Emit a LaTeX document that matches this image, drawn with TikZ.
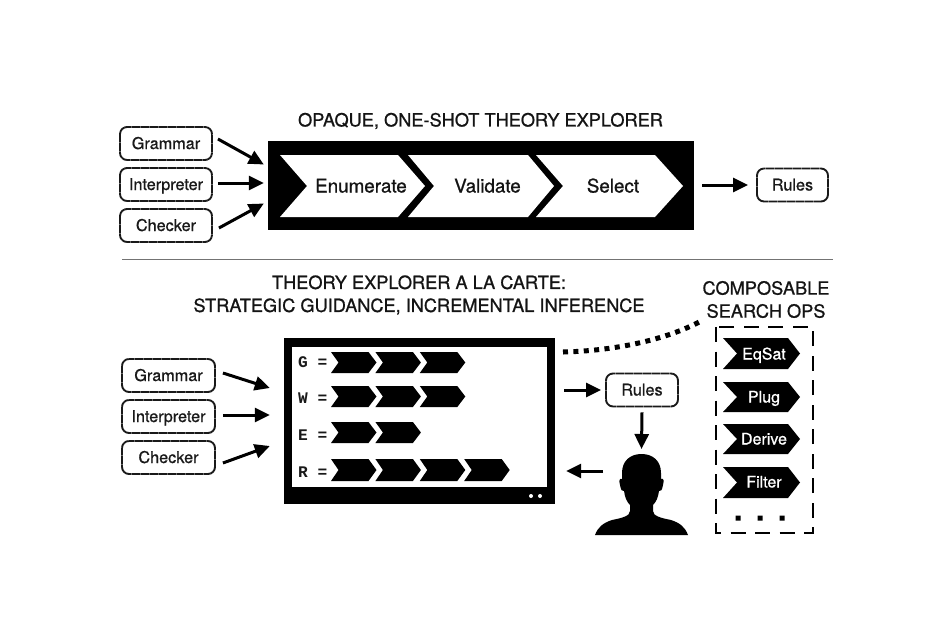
\documentclass[tikz,border=0pt]{standalone}
\usepackage{fontspec}
\setmainfont[FakeBold=0.8]{TeX Gyre Heros}
\setmonofont{Liberation Mono}
\usetikzlibrary{arrows.meta}
\tikzset{
  inbox/.style={draw=black!90,line width=1.9pt,dash pattern=on 1.5pt off 0.3pt,rounded corners=7pt,fill=white,minimum height=33pt,inner sep=0pt,text height=11pt,text depth=0pt,font=\fontsize{16.2}{18}\selectfont,text=black!90},
  arr/.style={line width=3pt,-{Triangle[length=15pt,width=14pt]},black},
  ttl/.style={font=\fontsize{18.2}{21}\selectfont,text=black!92,inner sep=0pt,align=center},
  stage/.style={font=\fontsize{18.8}{20}\selectfont,inner sep=0pt,text height=13pt,text depth=0pt,text=black!92},
  oplabel/.style={font=\fontsize{16}{18}\selectfont,inner sep=0pt,text height=11pt,text depth=0pt,text=white},
  rowlabel/.style={font=\ttfamily\bfseries\fontsize{16.2}{18}\selectfont,inner sep=0pt,anchor=west,text height=10pt,text depth=0pt,text=black!90},
  solidblock/.style={fill=black,draw=none,inner sep=0pt}
}
\newcommand{\chev}[7]{\fill[#1] (#2,#6) -- (#4,#6) -- (#5,{(#6+#7)/2}) -- (#4,#7) -- (#2,#7) -- (#3,{(#6+#7)/2}) -- cycle;}
\newcommand{\rowchevs}[3]{%
  \foreach \k in {1,...,#1}{
    \pgfmathsetmacro{\xa}{331+44.4*(\k-1)}
    \pgfmathsetmacro{\xb}{\xa+7.5}
    \pgfmathsetmacro{\xc}{\xa+37.5}
    \pgfmathsetmacro{\xd}{\xa+45.5}
    \chev{black}{\xa}{\xb}{\xc}{\xd}{#2}{#3}
  }}
\begin{document}
\begin{tikzpicture}[x=1pt,y=-1pt]
\useasboundingbox[fill=white] (0,0) rectangle (943,630);

% --- top ---
\node[ttl] (toptitle) at (480.5,121) {OPAQUE, ONE-SHOT THEORY EXPLORER};
\node[solidblock,minimum width=426pt,minimum height=89pt] (explorer) at (481,185.5) {};
\chev{white}{280}{307}{398}{425}{155}{217}
\chev{white}{408}{434}{528}{554}{155}{217}
\chev{white}{536}{563}{655}{683}{155}{217}
\node[stage] (enum) at (361,186) {Enumerate};
\node[stage] (valid) at (487.5,186) {Validate};
\node[stage] (select) at (613,186) {Select};

\node[inbox,minimum width=92pt] (g1) at (166,143.5) {Grammar};
\node[inbox,minimum width=92pt] (i1) at (166,184.5) {Interpreter};
\node[inbox,minimum width=92pt] (c1) at (166,225.5) {Checker};
\node[inbox,minimum width=71pt] (r1) at (792.5,185) {Rules};
\draw[arr] ([shift={(5,-4.5)}]g1.east) -- ([shift={(-4,-21)}]explorer.west);
\draw[arr] ([shift={(5,-1.5)}]i1.east) -- ([shift={(-4,-2.5)}]explorer.west);
\draw[arr] ([shift={(6,2.5)}]c1.east) -- ([shift={(-4,18)}]explorer.west);
\draw[arr] ([shift={(8,-0.5)}]explorer.east) -- ([shift={(-8,0)}]r1.west);

\draw[black!55,line width=0.7pt] (122,259.5) -- (833,259.5);

% --- bottom ---
\node[ttl] (bottomtitle) at (419,295) {THEORY EXPLORER A LA CARTE:\\[2pt]STRATEGIC GUIDANCE, INCREMENTAL INFERENCE};
\node[ttl] (opstitle) at (766,299.5) {COMPOSABLE\\[2pt]SEARCH OPS};

\node[solidblock,minimum width=271pt,minimum height=166pt] (monitor) at (419.5,421) {};
\fill[white] (292,347) rectangle (547,487);
\fill[white] (531,496) circle (2pt) (540,496) circle (2pt);
\node[rowlabel] (lg) at (298,362.5) {G =};
\node[rowlabel] (lw) at (298,398.5) {W =};
\node[rowlabel] (le) at (298,435.5) {E =};
\node[rowlabel] (lr) at (298,472.5) {R =};
\rowchevs{3}{352}{373}
\rowchevs{3}{386}{407}
\rowchevs{2}{422}{443}
\rowchevs{4}{459}{481}

\node[inbox,minimum width=93pt] (g2) at (168.5,375.5) {Grammar};
\node[inbox,minimum width=93pt] (i2) at (168.5,416.5) {Interpreter};
\node[inbox,minimum width=93pt] (c2) at (168.5,457.5) {Checker};
\node[inbox,minimum width=72pt] (r2) at (642,390) {Rules};
\draw[arr] ([shift={(7,-2.5)}]g2.east) -- ([shift={(-14,-33)}]monitor.west);
\draw[arr] ([shift={(7,-1.5)}]i2.east) -- ([shift={(-14,-6)}]monitor.west);
\draw[arr] ([shift={(7,5.5)}]c2.east) -- ([shift={(-14,25)}]monitor.west);
\draw[arr] ([shift={(9,-31)}]monitor.east) -- ([shift={(-4,0)}]r2.west);

% person
\path[fill=black] (641.5,454) .. controls (630,454) and (622,461) .. (622,473)
  .. controls (622,475) and (622,477) .. (622,479)
  .. controls (619,478) and (619,481) .. (620,485)
  .. controls (621,490) and (622,492) .. (624,491)
  .. controls (625,498) and (627,502) .. (630,505) -- (630,511)
  .. controls (630,516) and (622,518) .. (612,520)
  .. controls (603,523) and (598,527) .. (595,535) -- (688,535)
  .. controls (685,527) and (680,523) .. (671,520)
  .. controls (661,518) and (653,516) .. (653,511) -- (653,505)
  .. controls (656,502) and (658,498) .. (659,491)
  .. controls (661,492) and (662,490) .. (663,485)
  .. controls (664,481) and (664,478) .. (661,479)
  .. controls (661,477) and (661,475) .. (661,473)
  .. controls (661,461) and (653,454) .. (641.5,454) -- cycle;
\coordinate (head) at (641.5,454);
\coordinate (headleft) at (603,471);
\draw[arr] ([yshift=-5pt]r2.south) -- ([yshift=5pt]head);
\draw[arr] (headleft) -- ([shift={(11,50)}]monitor.east);

% dotted connector
\coordinate (dotstart) at (563,352);
\coordinate (dotend) at (703,320);
\draw[line width=5pt,dash pattern=on 5pt off 5.4pt] (dotstart) .. controls (610,351) and (665,341) .. (dotend);

% search ops
\draw[line width=2.5pt,dash pattern=on 15pt off 9.5pt] (716,327) rectangle (813,533);
\chev{black}{723}{737}{788}{800}{338}{369}
\chev{black}{723}{737}{788}{800}{382}{412}
\chev{black}{723}{737}{788}{800}{424}{454}
\chev{black}{723}{737}{788}{800}{467}{498}
\node[oplabel] (eqsat) at (764,354) {EqSat};
\node[oplabel] (plug) at (764,397) {Plug};
\node[oplabel] (derive) at (764,439) {Derive};
\node[oplabel] (filter) at (764,482) {Filter};
\fill (735.5,515.5) rectangle +(5,5) (757.5,515.5) rectangle +(5,5) (779.5,515.5) rectangle +(5,5);
\end{tikzpicture}
\end{document}
